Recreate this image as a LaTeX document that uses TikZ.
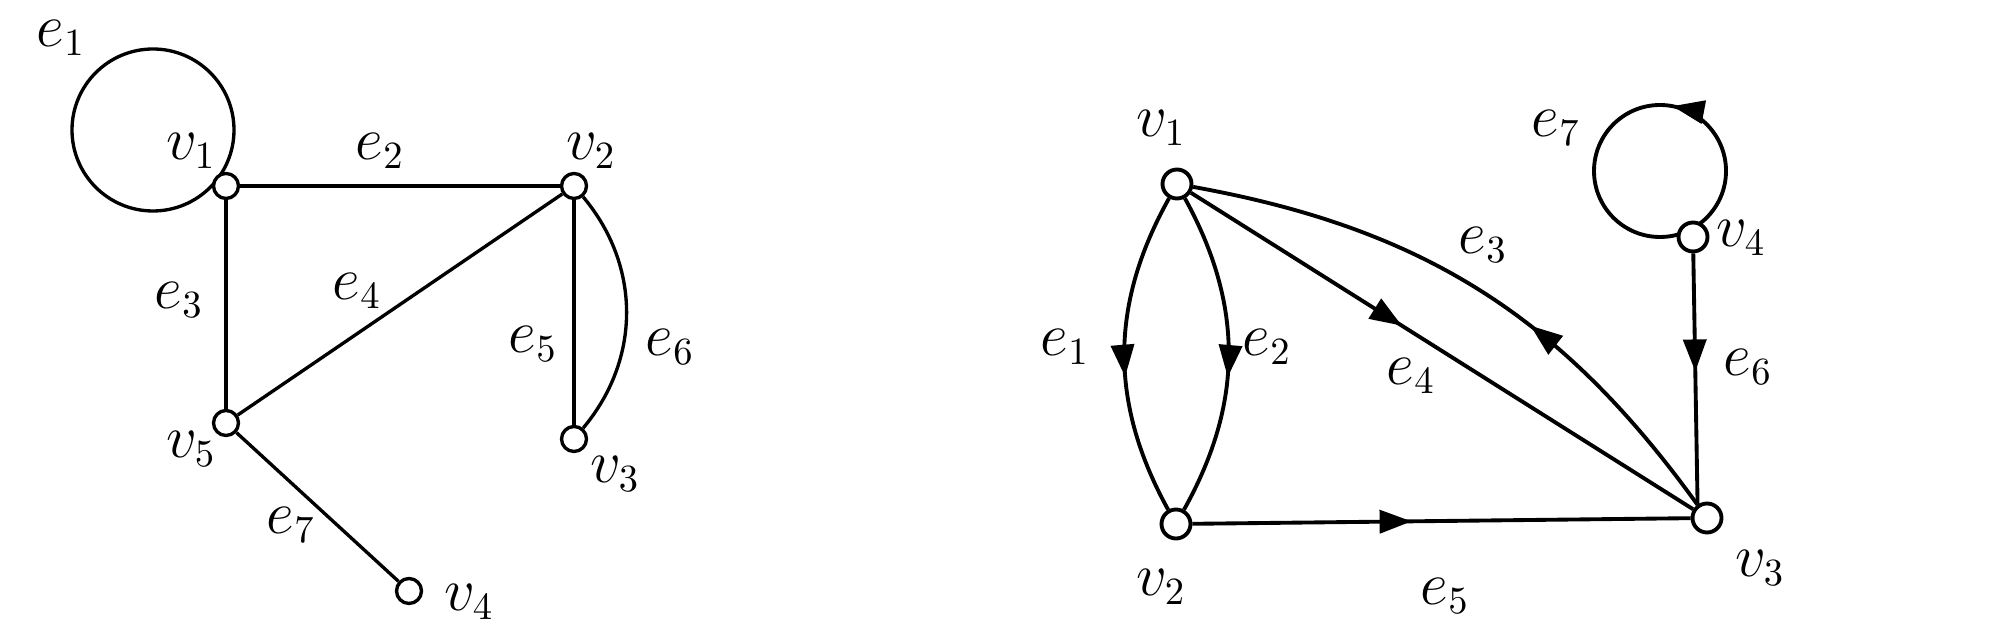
\documentclass[tikz,border=0pt]{standalone}
\usetikzlibrary{arrows.meta,decorations.markings}

\begin{document}
\begin{tikzpicture}[
  font=\fontsize{16}{19}\selectfont,
  vtx/.style={draw, circle, fill=white, inner sep=0pt, minimum size=2.5mm,
              line width=0.95pt},
  bigvtx/.style={vtx, minimum size=2.9mm, line width=1.1pt},
  link/.style={line width=0.95pt, black},
  flow/.style={line width=1.1pt, black, postaction=decorate, decoration={markings,
      mark=at position #1 with {\arrow{Triangle[length=3.2mm, width=2.3mm]}}}},
  lbl/.style={inner sep=0pt},
]
  \useasboundingbox (0,0) rectangle (20,6.41);

  % undirected graph
  \coordinate (ca) at (1.53,5.11);
  \draw[link] (ca) circle[radius=0.81];

  \node[vtx] (a1) at (2.26,4.55) {};
  \node[vtx] (a2) at (5.74,4.55) {};
  \node[vtx] (a3) at (5.74,2.02) {};
  \node[vtx] (a4) at (4.09,0.50) {};
  \node[vtx] (a5) at (2.26,2.18) {};

  \foreach \a/\b in {a1/a2, a1/a5, a5/a2, a2/a3, a5/a4}
    \draw[link] (\a) -- (\b);
  \draw[link] (a2) to[bend left=40] (a3);

  \node[lbl] (la1) at (1.91,4.90) {$v_1$};
  \node[lbl] (la2) at (5.91,4.90) {$v_2$};
  \node[lbl] (la3) at (6.15,1.67) {$v_3$};
  \node[lbl] (la4) at (4.69,0.39) {$v_4$};
  \node[lbl] (la5) at (1.91,1.92) {$v_5$};
  \node[lbl] (lae1) at (0.61,6.03) {$e_1$};
  \node[lbl] (lae2) at (3.80,4.90) {$e_2$};
  \node[lbl] (lae3) at (1.79,3.41) {$e_3$};
  \node[lbl] (lae4) at (3.57,3.50) {$e_4$};
  \node[lbl] (lae5) at (5.33,2.97) {$e_5$};
  \node[lbl] (lae6) at (6.70,2.94) {$e_6$};
  \node[lbl] (lae7) at (2.91,1.16) {$e_7$};

  % directed graph
  \coordinate (cb) at (16.60,4.70);
  \draw[flow=0.22] (cb) circle[radius=0.66];

  \node[bigvtx] (b1) at (11.77,4.57) {};
  \node[bigvtx] (b2) at (11.76,1.17) {};
  \node[bigvtx] (b3) at (17.07,1.23) {};
  \node[bigvtx] (b4) at (16.93,4.04) {};

  \draw[flow=0.57] (b1) to[bend right=29] (b2);
  \draw[flow=0.57] (b1) to[bend left=29] (b2);
  \draw[flow=0.40] (b3) to[bend right=22] (b1);
  \draw[flow=0.42] (b1) -- (b3);
  \draw[flow=0.44] (b2) -- (b3);
  \draw[flow=0.47] (b4) -- (b3.125);

  \node[lbl] (lb1) at (11.61,5.13) {$v_1$};
  \node[lbl] (lb2) at (11.61,0.54) {$v_2$};
  \node[lbl] (lb3) at (17.60,0.73) {$v_3$};
  \node[lbl] (lb4) at (17.41,4.03) {$v_4$};
  \node[lbl] (lbe1) at (10.65,2.94) {$e_1$};
  \node[lbl] (lbe2) at (12.67,2.94) {$e_2$};
  \node[lbl] (lbe3) at (14.83,3.96) {$e_3$};
  \node[lbl] (lbe4) at (14.11,2.65) {$e_4$};
  \node[lbl] (lbe5) at (14.45,0.45) {$e_5$};
  \node[lbl] (lbe6) at (17.48,2.74) {$e_6$};
  \node[lbl] (lbe7) at (15.56,5.13) {$e_7$};
\end{tikzpicture}
\end{document}
